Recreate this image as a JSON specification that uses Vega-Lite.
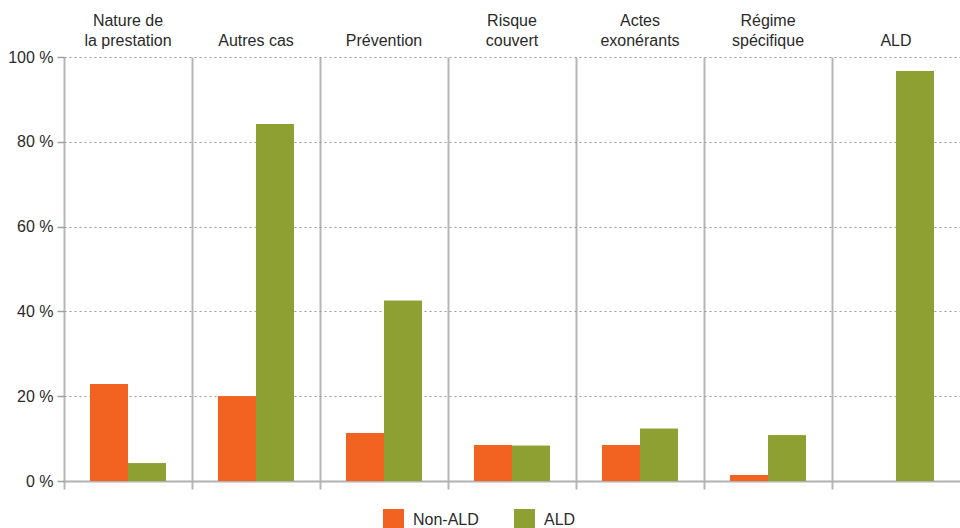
{
  "$schema": "https://vega.github.io/schema/vega-lite/v6.json",
  "width": 896,
  "height": 424,
  "autosize": {"type": "none"},
  "padding": {"left": 64, "top": 57, "right": 0, "bottom": 47},
  "background": "white",
  "config": {
    "font": "Liberation Sans, sans-serif",
    "view": {"stroke": null}
  },
  "data": {
    "values": [
      {"categorie": "Nature de la prestation", "groupe": "Non-ALD", "valeur": 22.9},
      {"categorie": "Nature de la prestation", "groupe": "ALD", "valeur": 4.2},
      {"categorie": "Autres cas", "groupe": "Non-ALD", "valeur": 20.0},
      {"categorie": "Autres cas", "groupe": "ALD", "valeur": 84.2},
      {"categorie": "Prévention", "groupe": "Non-ALD", "valeur": 11.3},
      {"categorie": "Prévention", "groupe": "ALD", "valeur": 42.5},
      {"categorie": "Risque couvert", "groupe": "Non-ALD", "valeur": 8.5},
      {"categorie": "Risque couvert", "groupe": "ALD", "valeur": 8.3},
      {"categorie": "Actes exonérants", "groupe": "Non-ALD", "valeur": 8.5},
      {"categorie": "Actes exonérants", "groupe": "ALD", "valeur": 12.3},
      {"categorie": "Régime spécifique", "groupe": "Non-ALD", "valeur": 1.4},
      {"categorie": "Régime spécifique", "groupe": "ALD", "valeur": 10.8},
      {"categorie": "ALD", "groupe": "Non-ALD", "valeur": 0},
      {"categorie": "ALD", "groupe": "ALD", "valeur": 96.7}
    ]
  },
  "encoding": {
    "xOffset": {"field": "groupe", "type": "nominal", "sort": ["Non-ALD", "ALD"], "scale": {"paddingInner": 0, "paddingOuter": 0.684}},
    "y": {
      "field": "valeur", "type": "quantitative",
      "scale": {"domain": [0, 100], "nice": false},
      "axis": {
        "title": null, "values": [0, 20, 40, 60, 80, 100],
        "labelExpr": "datum.value + ' %'",
        "labelFontSize": 16, "labelColor": "#2a2a2a", "labelPadding": 4,
        "domain": false, "tickColor": "#a0a0a0", "tickSize": 7, "tickWidth": 1.5,
        "grid": true, "gridColor": "#9a9a9a", "gridDash": [2, 3], "gridWidth": 1
      }
    },
    "color": {
      "field": "groupe", "type": "nominal",
      "scale": {"domain": ["Non-ALD", "ALD"], "range": ["#F26322", "#8FA033"]},
      "legend": {
        "title": null, "orient": "none", "legendX": 319, "legendY": 452,
        "direction": "horizontal", "symbolType": "square", "symbolSize": 441,
        "symbolStrokeWidth": 0, "labelFontSize": 16, "labelColor": "#2a2a2a",
        "labelOffset": 9, "columnPadding": 35
      }
    }
  },
  "layer": [
    {
      "mark": {"type": "bar"},
      "encoding": {
        "x": {
          "field": "categorie", "type": "nominal",
          "sort": ["Nature de la prestation", "Autres cas", "Prévention", "Risque couvert", "Actes exonérants", "Régime spécifique", "ALD"],
          "scale": {"paddingInner": 0, "paddingOuter": 0},
          "axis": {
            "orient": "bottom", "bandPosition": 0, "labels": false, "title": null,
            "grid": true, "gridColor": "#b5b5b8", "gridWidth": 2, "gridDash": [],
            "ticks": true, "tickColor": "#b5b5b8", "tickSize": 8, "tickWidth": 2,
            "domain": true, "domainColor": "#b0b0b0", "domainWidth": 2
          }
        }
      }
    },
    {
      "mark": {"type": "bar"},
      "encoding": {
        "x": {
          "field": "categorie", "type": "nominal",
          "sort": ["Nature de la prestation", "Autres cas", "Prévention", "Risque couvert", "Actes exonérants", "Régime spécifique", "ALD"],
          "axis": {
            "orient": "top", "title": null, "grid": false, "ticks": false, "domain": false,
            "labelAngle": 0, "labelFontSize": 16, "labelColor": "#2a2a2a", "labelPadding": 29,
            "labelLineHeight": 20,
            "labelExpr": "datum.value == 'Nature de la prestation' ? ['Nature de', 'la prestation'] : datum.value == 'Risque couvert' ? ['Risque', 'couvert'] : datum.value == 'Actes exonérants' ? ['Actes', 'exonérants'] : datum.value == 'Régime spécifique' ? ['Régime', 'spécifique'] : ['', datum.value]"
          }
        }
      }
    }
  ],
  "resolve": {"axis": {"x": "independent"}}
}
